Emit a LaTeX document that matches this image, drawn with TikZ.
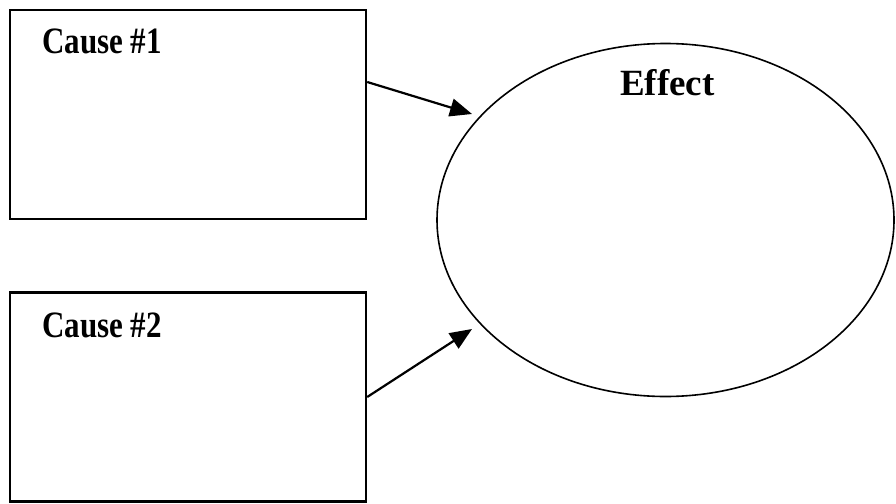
\documentclass[tikz,border=0pt]{standalone}
\usepackage{fontspec}
\setmainfont{Liberation Serif}
\usepackage{graphicx}
\usetikzlibrary{arrows.meta,shapes.geometric}
\newcommand{\tallword}[1]{\scalebox{1}[1.2]{#1}}

\begin{document}
\begin{tikzpicture}[x=1pt, y=-1pt,
  causebox/.style={draw, line width=2.4pt, minimum width=356pt, minimum height=209pt, inner sep=0pt},
  label/.style={font=\fontsize{31}{36}\selectfont\bfseries, inner sep=0pt, anchor=base west},
  link/.style={line width=2.2pt, -{Triangle[length=22pt,width=18pt]}}]
  \useasboundingbox (0,0) rectangle (896,503);
  % the two causes
  \node[causebox] (cause1) at (188,114.5) {};
  \node[causebox] (cause2) at (188,397) {};
  \node[label] (c1) at (42,54) {\tallword{Cause \#1}};
  \node[label] (c2) at (42,337) {\tallword{Cause \#2}};
  % the effect
  \node[draw, ellipse, line width=1.6pt, minimum width=457pt, minimum height=353pt, inner sep=0pt] (effect) at (665.5,220) {};
  \node[label, font=\fontsize{37}{42}\selectfont\bfseries] (e) at (620,95) {Effect};
  % arrows
  \coordinate (in1) at (472,114);
  \coordinate (in2) at (472,329);
  \draw[link] (cause1.east |- 0,82) -- (in1);
  \draw[link] (cause2.east |- 0,397) -- (in2);
\end{tikzpicture}
\end{document}
